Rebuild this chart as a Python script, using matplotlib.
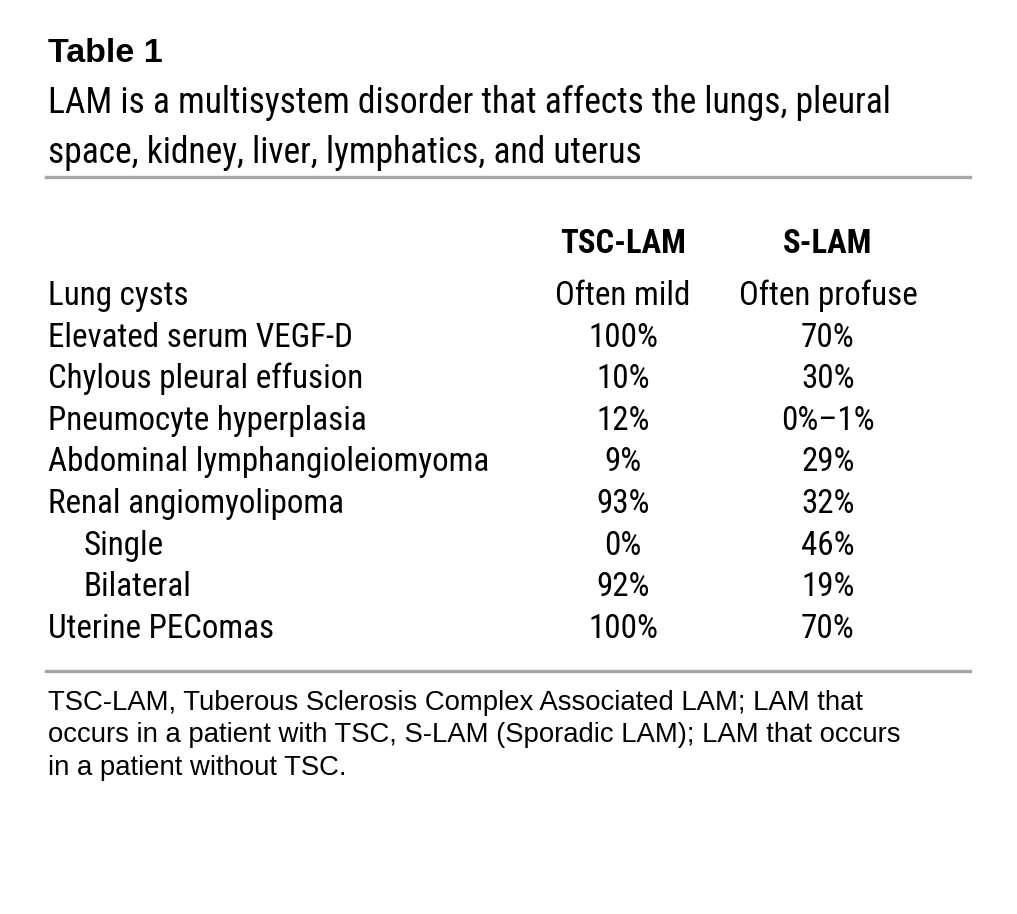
"""Table 1: LAM features, TSC-LAM vs S-LAM, drawn as text on a blank figure."""

import matplotlib
matplotlib.use('Agg')
import matplotlib.pyplot as plt
from matplotlib.lines import Line2D

plt.rcParams['font.family'] = ['Roboto Condensed', 'Archivo Narrow', 'DejaVu Sans']

W, H = 1017, 914

title = 'Table 1'
subtitle = ['LAM is a multisystem disorder that affects the lungs, pleural',
            'space, kidney, liver, lymphatics, and uterus']
columns = ['TSC-LAM', 'S-LAM']
row_labels = ['Lung cysts', 'Elevated serum VEGF-D', 'Chylous pleural effusion',
              'Pneumocyte hyperplasia', 'Abdominal lymphangioleiomyoma',
              'Renal angiomyolipoma', 'Single', 'Bilateral', 'Uterine PEComas']
indented = [False, False, False, False, False, False, True, True, False]
tsc_lam = ['Often mild', '100%', '10%', '12%', '9%', '93%', '0%', '92%', '100%']
s_lam = ['Often profuse', '70%', '30%', '0%\u20131%', '29%', '32%', '46%', '19%', '70%']
footnote = ['TSC-LAM, Tuberous Sclerosis Complex Associated LAM; LAM that',
            'occurs in a patient with TSC, S-LAM (Sporadic LAM); LAM that occurs',
            'in a patient without TSC.']

fig = plt.figure(figsize=(W / 100, H / 100), dpi=100)
fig.patch.set_facecolor('white')


def fy(y):
    # pixel row (from top) -> figure fraction
    return 1 - y / H


def fx(x):
    return x / W


def put(x, y, s, **kw):
    fig.text(fx(x), fy(y), s, va='baseline', color='black', **kw)


plain = ['Liberation Sans', 'DejaVu Sans']

put(48, 62, title, fontsize=24.5, fontweight='bold', family=plain)
for i, line in enumerate(subtitle):
    put(48, 113 + i * 50, line, fontsize=25.6)

rule_color = '#a6a6a6'
for y in (177, 671):
    fig.add_artist(Line2D([fx(46), fx(970)], [fy(y), fy(y)], color=rule_color,
                          linewidth=2.4, transform=fig.transFigure))

col_x = [623, 828]
for x, name in zip(col_x, columns):
    put(x, 253, name, fontsize=23.5, fontweight='bold', ha='center')

row0, step = 305, 41.6
for i, label in enumerate(row_labels):
    y = row0 + i * step
    put(84 if indented[i] else 48, y, label, fontsize=23.8)
    put(col_x[0], y, tsc_lam[i], fontsize=23.8, ha='center')
    put(col_x[1], y, s_lam[i], fontsize=23.8, ha='center')

for i, line in enumerate(footnote):
    put(48, 710 + i * 32.5, line, fontsize=19.8, family=plain)

fig.savefig('out.png', dpi=100, facecolor='white')
